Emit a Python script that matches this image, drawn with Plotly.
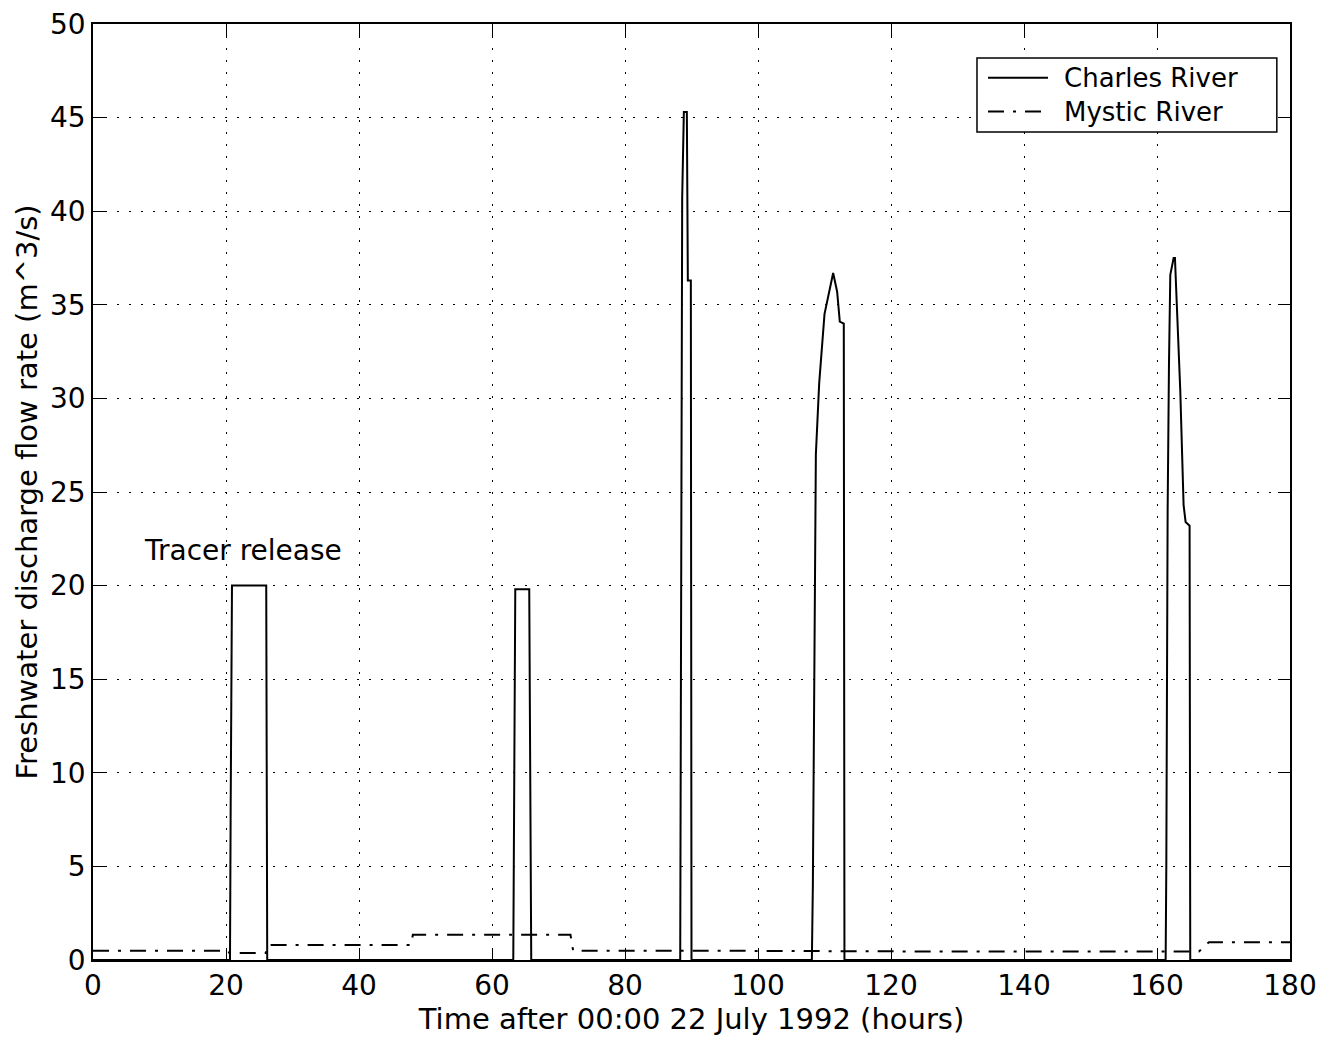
import plotly.graph_objects as go

# ---- data ----
charles_t = [0, 20.6, 20.7, 20.8, 20.9, 26.05, 26.2,
             63.2, 63.5, 65.6, 65.9,
             88.3, 88.5, 88.6, 88.85, 89.3, 89.45, 89.9, 90.0,
             108.1, 108.25, 108.4, 108.55, 108.7, 109.2, 110.0, 111.3, 111.9, 112.3, 112.9, 113.0,
             161.3, 161.4, 161.5, 161.6, 161.8, 162.0, 162.5, 162.7, 162.9, 163.5, 164.0, 164.3, 164.9, 165.0,
             180]
charles_q = [0, 0, 8, 15, 20.0, 20.0, 0,
             0, 19.8, 19.8, 0,
             0, 20, 40.7, 45.3, 45.3, 36.3, 36.3, 0,
             0, 4, 12, 21, 27, 30.8, 34.5, 36.7, 35.7, 34.1, 34.0, 0,
             0, 5, 15, 24, 31.8, 36.6, 37.5, 37.5, 35.7, 30.4, 24.3, 23.4, 23.2, 0,
             0]

mystic_t = [0, 20.3, 20.5, 26.0, 26.3, 47.8, 48.1, 71.8, 72.2, 88.0, 130.0, 166.3, 167.8, 180]
mystic_q = [0.5, 0.5, 0.38, 0.38, 0.8, 0.8, 1.35, 1.35, 0.5, 0.5, 0.45, 0.45, 0.95, 0.95]

x_ticks = [0, 20, 40, 60, 80, 100, 120, 140, 160, 180]
y_ticks = [0, 5, 10, 15, 20, 25, 30, 35, 40, 45, 50]

series_names = ["Charles River", "Mystic River"]
annotation_text = "Tracer release"

FONT = "DejaVu Sans"
DASHDOT = "16px,9px,3px,9px"

fig = go.Figure()
fig.add_trace(go.Scatter(x=charles_t, y=charles_q, mode="lines", name=series_names[0],
                         line=dict(color="black", width=2), showlegend=False))
fig.add_trace(go.Scatter(x=mystic_t, y=mystic_q, mode="lines", name=series_names[1],
                         line=dict(color="black", width=2, dash=DASHDOT),
                         showlegend=False))

axis_common = dict(
    showline=True, linecolor="black", linewidth=1.5, mirror="ticks",
    ticks="inside", ticklen=12, tickwidth=1, tickcolor="black",
    showgrid=True, gridcolor="black", gridwidth=1, griddash="2px,10px",
    zeroline=False, automargin=False, ticklabeloverflow="allow",
    tickfont=dict(family=FONT, size=28, color="black"),
)

fig.update_xaxes(range=[0, 180], tickvals=x_ticks, ticktext=[str(v) for v in x_ticks],
                 title=dict(text="Time after 00:00 22 July 1992 (hours)",
                            font=dict(family=FONT, size=29, color="black"), standoff=2),
                 **axis_common)
fig.update_yaxes(range=[0, 50], tickvals=y_ticks, ticktext=[str(v) for v in y_ticks],
                 title=dict(text="Freshwater discharge flow rate (m^3/s)",
                            font=dict(family=FONT, size=29, color="black"), standoff=4),
                 **axis_common)

# annotation
fig.add_annotation(x=7.3, y=21.9, xref="x", yref="y", text=annotation_text,
                   showarrow=False, xanchor="left", yanchor="middle",
                   font=dict(family=FONT, size=28, color="black"))

# MATLAB-style legend box (paper coordinates)
lx0, lx1, ly0, ly1 = 0.7385, 0.989, 0.8845, 0.9636
fig.add_shape(type="rect", xref="paper", yref="paper", x0=lx0, x1=lx1, y0=ly0, y1=ly1,
              line=dict(color="black", width=1.5), fillcolor="white", layer="above")
leg_rows = [(0.9425, "solid"), (0.9065, DASHDOT)]
for (ly, dash), name in zip(leg_rows, series_names):
    fig.add_shape(type="line", xref="paper", yref="paper", x0=0.7477, x1=0.7978, y0=ly, y1=ly,
                  line=dict(color="black", width=2, dash=dash), layer="above")
    fig.add_annotation(x=0.8095, y=ly, xref="paper", yref="paper", text=name, showarrow=False,
                       xanchor="left", yanchor="middle",
                       font=dict(family=FONT, size=26, color="black"))

fig.update_layout(
    width=1333, height=1049,
    margin=dict(l=85, r=51, t=16, b=97),
    paper_bgcolor="white", plot_bgcolor="white",
    font=dict(family=FONT, color="black"),
)

fig.write_html("out.html")
